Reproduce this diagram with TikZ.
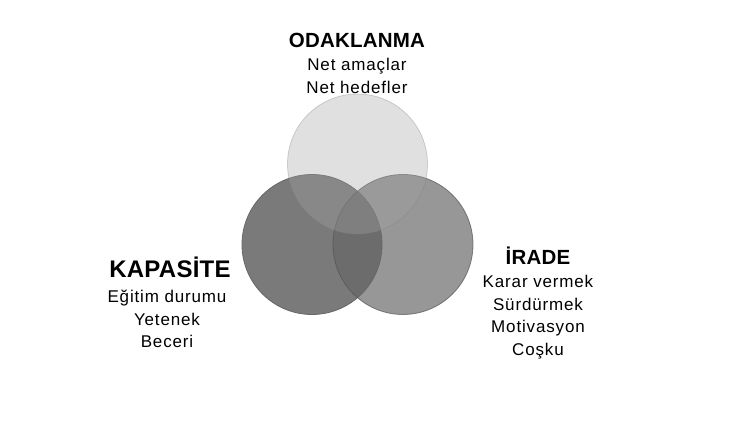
\documentclass[tikz,border=0pt]{standalone}
\usepackage{fontspec}
\setmainfont{Liberation Sans}
\newfontfamily\pointfont[LetterSpace=5]{Liberation Sans}
\newfontfamily\headfont[LetterSpace=1]{Liberation Sans}
\usetikzlibrary{positioning}

\definecolor{capfill}{gray}{0.478}
\definecolor{capdraw}{gray}{0.40}
\definecolor{willfill}{gray}{0.40}
\definecolor{willdraw}{gray}{0.32}
\definecolor{focusfill}{gray}{0.643}
\definecolor{focusdraw}{gray}{0.50}

\begin{document}
\begin{tikzpicture}[x = 1pt, y = -1pt]
    \tikzset{
      ring/.style = {circle, minimum size = 140pt, inner sep = 0pt, line width = 0.8pt},
      heading/.style = {anchor = base, inner sep = 0pt},
      points/.style = {align = center, anchor = north, inner sep = 0pt,
        font = \pointfont\fontsize{17}{22.5}\selectfont},
    }

    \useasboundingbox (0, 0) rectangle (750, 422);

    \node [ring, fill = capfill, draw = capdraw] (capacity) at (312, 244.5) {};
    \node [ring, fill = willfill, draw = willdraw, opacity = 0.684] (will) at (403, 244.5) {};
    \node [ring, fill = focusfill, draw = focusdraw, opacity = 0.34] (focus) at (357.5, 164) {};

    \node [heading, font = \headfont\bfseries\fontsize{20.5}{24}\selectfont] (focustitle) at (357, 48) {ODAKLANMA};
    \node [points] (focuslist) at (357, 58) {Net amaçlar\\Net hedefler};

    \node [heading, font = \headfont\bfseries\fontsize{24}{28}\selectfont] (captitle) at (170, 278) {KAPASİTE};
    \node [points] (caplist) at (167, 290) {Eğitim durumu\\Yetenek\\Beceri};

    \node [heading, font = \headfont\bfseries\fontsize{20.5}{24}\selectfont] (willtitle) at (538, 265) {İRADE};
    \node [points] (willlist) at (538, 275) {Karar vermek\\Sürdürmek\\Motivasyon\\Coşku};
  \end{tikzpicture}
\end{document}
